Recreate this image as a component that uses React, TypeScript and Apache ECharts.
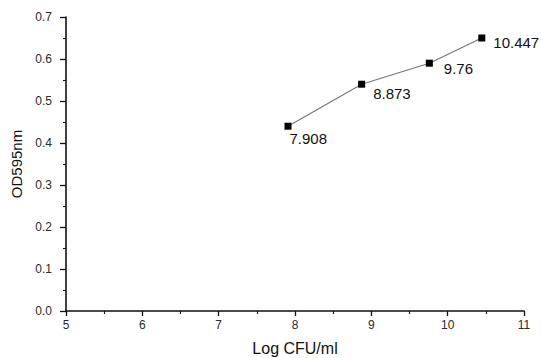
import React, { useEffect, useRef } from "react";
import * as echarts from "echarts";

const logCfu = [7.908, 8.873, 9.76, 10.447];
const od595 = [0.44, 0.54, 0.59, 0.65];
const pointLabels = ["7.908", "8.873", "9.76", "10.447"];
const labelOffsets: [number, number][] = [
  [-7, 12],
  [3, 9],
  [6, 5],
  [3, 4],
];

export default function App() {
  const ref = useRef<HTMLDivElement>(null);
  useEffect(() => {
    if (!ref.current) return;
    const chart = echarts.init(ref.current, null, { renderer: "svg" });
    const font = "'Liberation Sans', Arial, sans-serif";
    const axisLine = { show: true, lineStyle: { color: "#111", width: 1.6 } };
    chart.setOption({
      animation: false,
      backgroundColor: "#fff",
      grid: {
        left: 66,
        right: 17,
        top: 17,
        bottom: 47,
        containLabel: false,
        outerBoundsMode: "none",
      },
      xAxis: {
        type: "value",
        min: 5,
        max: 11,
        interval: 1,
        name: "Log CFU/ml",
        nameLocation: "middle",
        nameGap: 29,
        nameTextStyle: { fontFamily: font, fontSize: 16, color: "#111" },
        axisLine,
        axisTick: { show: true, length: 5, lineStyle: { color: "#111", width: 1.3 } },
        minorTick: { show: true, splitNumber: 2, length: 3, lineStyle: { color: "#111", width: 1.1 } },
        splitLine: { show: false },
        axisLabel: { fontFamily: font, fontSize: 12, color: "#2a2a2a", margin: 8 },
      },
      yAxis: {
        type: "value",
        min: 0,
        max: 0.7,
        interval: 0.1,
        name: "OD595nm",
        nameLocation: "middle",
        nameGap: 42,
        nameRotate: 90,
        nameTextStyle: { fontFamily: font, fontSize: 15, color: "#111" },
        axisLine,
        axisTick: { show: true, length: 6, lineStyle: { color: "#111", width: 1.3 } },
        minorTick: { show: true, splitNumber: 2, length: 3, lineStyle: { color: "#111", width: 1.1 } },
        splitLine: { show: false },
        axisLabel: {
          fontFamily: font,
          fontSize: 12,
          color: "#2a2a2a",
          margin: 14,
          formatter: (v: number) => v.toFixed(1),
        },
      },
      series: [
        {
          type: "line",
          data: logCfu.map((x, i) => ({
            value: [x, od595[i]],
            label: {
              show: true,
              position: "right",
              offset: labelOffsets[i],
              formatter: pointLabels[i],
            },
          })),
          symbol: "rect",
          symbolSize: 7,
          itemStyle: { color: "#000" },
          lineStyle: { color: "#777", width: 1.2 },
          label: { fontFamily: font, fontSize: 15, color: "#111" },
        },
      ],
    });
    return () => chart.dispose();
  }, []);
  return (
    <div
      ref={ref}
      style={{ position: "absolute", left: 0, top: 0, width: 541, height: 358 }}
    />
  );
}
